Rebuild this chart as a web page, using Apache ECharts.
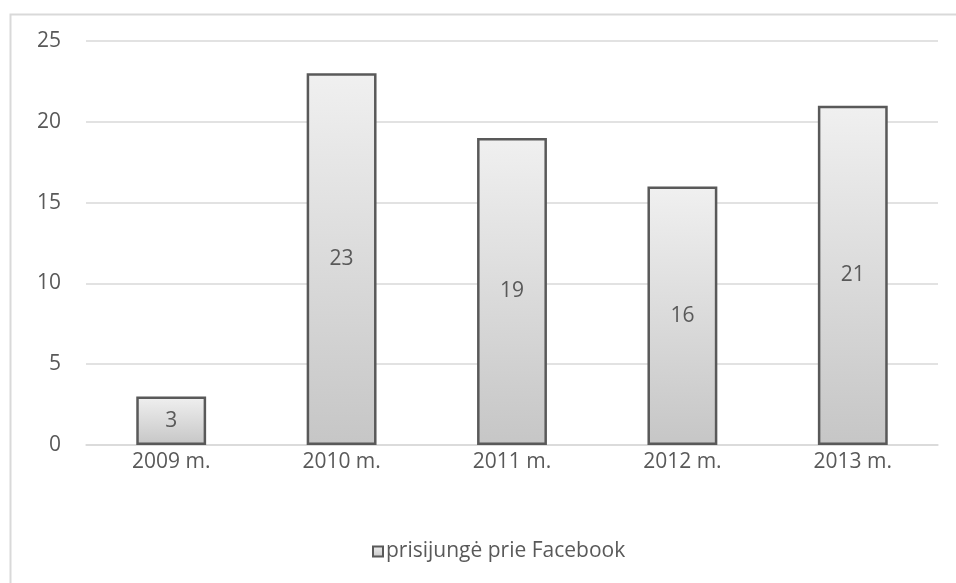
<!DOCTYPE html>
<html>
<head>
<meta charset="utf-8">
<script src="https://cdn.jsdelivr.net/npm/echarts@6/dist/echarts.min.js"></script>
<style>html,body{margin:0;padding:0;background:#fff}#c{width:956px;height:583px}</style>
</head>
<body>
<div id="c"></div>
<script>
var categories = ['2009 m.', '2010 m.', '2011 m.', '2012 m.', '2013 m.'];
var seriesName = 'prisijungė prie Facebook';
var values = [3, 23, 19, 16, 21];

var chart = echarts.init(document.getElementById('c'), null, {renderer: 'canvas'});
var grad = new echarts.graphic.LinearGradient(0, 0, 0, 1, [
  {offset: 0, color: '#f0f0f0'},
  {offset: 1, color: '#c6c6c6'}
]);
var font = '"Open Sans", "Noto Sans", sans-serif';
var fs = 21;
chart.setOption({
  animation: false,
  textStyle: {fontFamily: font},
  graphic: [{
    type: 'rect', left: 8, top: 12, silent: true,
    shape: {width: 1000, height: 700},
    style: {fill: 'none', stroke: '#d9d9d9', lineWidth: 2}
  }],
  grid: {left: 86, right: 18, top: 41, bottom: 138, containLabel: false},
  legend: {
    top: 536, left: 367,
    itemWidth: 10, itemHeight: 10, itemGap: 4,
    icon: 'rect',
    textStyle: {color: '#595959', fontSize: fs, fontFamily: font, padding: [0, 0, 0, -2]},
    data: [{name: seriesName, itemStyle: {borderColor: '#595959', borderWidth: 2}}]
  },
  xAxis: {
    type: 'category', data: categories,
    axisLine: {lineStyle: {color: '#d9d9d9', width: 1.5}},
    axisTick: {show: false},
    axisLabel: {color: '#595959', fontSize: fs, margin: 7, fontFamily: font}
  },
  yAxis: {
    type: 'value', min: 0, max: 25, interval: 5,
    axisLine: {show: false}, axisTick: {show: false},
    splitLine: {lineStyle: {color: '#d9d9d9', width: 1.5}},
    axisLabel: {color: '#595959', fontSize: fs, margin: 25, fontFamily: font}
  },
  series: [{
    name: seriesName, type: 'bar', data: values,
    barWidth: '41%',
    itemStyle: {color: grad, borderColor: '#595959', borderWidth: 2.5},
    label: {show: true, position: 'inside', color: '#595959', fontSize: fs, fontFamily: font}
  }]
});
</script>
</body>
</html>
